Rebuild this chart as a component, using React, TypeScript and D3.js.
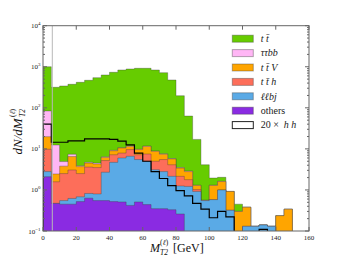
import React, { useRef, useEffect } from "react";
import * as d3 from "d3";

// 5 GeV bins from 0 to 160 GeV, stacked tops
const binWidth = 5;
const xTicks = [0, 20, 40, 60, 80, 100, 120, 140, 160];
const yExponents = [-1, 0, 1, 2, 3, 4];
const cutValue = 5.6;

const ttTop = [1000, 316, 340, 374, 418, 468, 542, 630, 733, 834, 882, 917, 917, 834, 717, 476, 197, 63, 17, 4.1, 1.95, 2.03, 0.92, 0.45, 0.38, 0.13, 0.14, 0.13, 0.236, 0.34, 0, 0];
const tautaubbTop = [84, 12.4, 4.9, 7.4, 3.9, 4.7, 4.5, 6.4, 9.2, 10.7, 11.8, 9.8, 11.7, 8.9, 7.6, 5.8, 3.5, 2.9, 1.3, 0.56, 1.3, 1.62, 0.92, 0.3, 0.38, 0.13, 0.14, 0.13, 0.236, 0.34, 0, 0];
const ttVTop = [19.8, 2.45, 3.8, 6.5, 3.7, 4.5, 4.3, 6.2, 9.0, 10.5, 11.5, 9.6, 11.5, 8.7, 7.4, 5.7, 3.4, 2.8, 1.29, 0.56, 1.29, 1.6, 0.92, 0.3, 0.38, 0.13, 0.14, 0.13, 0.236, 0.34, 0, 0];
const tthTop = [9.8, 1.58, 2.5, 3.06, 2.5, 3.6, 3.5, 5.2, 7.2, 7.9, 9.6, 7.2, 7.5, 5.0, 5.5, 4.1, 2.14, 1.78, 1.02, 0.55, 0.58, 1.0, 0.32, 0, 0.13, 0.13, 0.14, 0.13, 0, 0, 0, 0];
const llbjTop = [2.8, 0.47, 0.55, 0.62, 0.68, 0.82, 0.8, 2.7, 4.7, 6.0, 6.6, 5.5, 5.0, 3.1, 2.8, 2.14, 1.25, 1.22, 0.92, 0.55, 0.58, 1.0, 0.32, 0, 0.13, 0.13, 0.14, 0.13, 0, 0, 0, 0];
const othersTop = [2.1, 0.47, 0.45, 0.45, 0.52, 0.63, 0.55, 0.55, 0.52, 0.51, 0.42, 0.51, 0.44, 0.35, 0.35, 0.33, 0.26, 0, 0, 0, 0, 0, 0, 0, 0, 0, 0, 0, 0, 0, 0, 0];
const hh20 = [40, 14.5, 14.5, 15.7, 15.7, 17.5, 17.5, 17.5, 17, 15.5, 12.5, 7.9, 5.0, 2.8, 1.9, 1.27, 0.96, 0.72, 0.47, 0.34, 0.21, 0.3, 0.22, 0, 0, 0, 0.11, 0, 0, 0, 0, 0];

// legend label parts: [text, italic]
const legendLabels: Array<Array<[string, boolean]>> = [
  [["t t\u0304", true]],
  [["ττbb", true]],
  [["t t\u0304 V", true]],
  [["t t\u0304 h", true]],
  [["ℓℓbj", true]],
  [["others", false]],
  [["20 ×  ", false], ["h h", true]],
];

const layers = [
  { values: ttTop, color: "#66cc00" },
  { values: tautaubbTop, color: "#ffb6f5" },
  { values: ttVTop, color: "#ffa500" },
  { values: tthTop, color: "#fd6e5a" },
  { values: llbjTop, color: "#5aaae6" },
  { values: othersTop, color: "#8a2be2" },
];

const SERIF = "'Liberation Serif', 'DejaVu Serif', serif";

export default function App() {
  const svgRef = useRef<SVGSVGElement>(null);

  useEffect(() => {
    if (!svgRef.current) return;
    const svg = d3.select(svgRef.current);
    svg.selectAll("*").remove();

    const left = 43, right = 309, top = 25.7, bottom = 231;
    const x = d3.scaleLinear().domain([0, 160]).range([left, right]);
    const y = d3.scaleLog().domain([0.1, 1e4]).range([bottom, top]);
    const yc = (v: number) => (v > 0.1 ? y(v) : bottom + 3);

    svg
      .append("defs")
      .append("clipPath")
      .attr("id", "plotclip")
      .append("rect")
      .attr("x", left)
      .attr("y", top)
      .attr("width", right - left)
      .attr("height", bottom - top);

    const plot = svg.append("g").attr("clip-path", "url(#plotclip)");

    const stepPoints = (vals: number[]): [number, number][] => {
      const pts: [number, number][] = [[x(0), bottom + 3]];
      vals.forEach((v, i) => {
        pts.push([x(i * binWidth), yc(v)]);
        pts.push([x((i + 1) * binWidth), yc(v)]);
      });
      pts.push([x(vals.length * binWidth), bottom + 3]);
      return pts;
    };
    const line = d3.line();

    // stacked histograms, largest cumulative first
    layers.forEach((l) => {
      plot
        .append("path")
        .attr("d", line(stepPoints(l.values)) + "Z")
        .attr("fill", l.color)
        .attr("stroke", "rgba(60,60,60,0.35)")
        .attr("stroke-width", 1);
    });

    // 20 x hh outline
    plot
      .append("path")
      .attr("d", line(stepPoints(hh20)))
      .attr("fill", "none")
      .attr("stroke", "#000")
      .attr("stroke-width", 1.2);

    // light cut line
    plot
      .append("line")
      .attr("x1", x(cutValue))
      .attr("x2", x(cutValue))
      .attr("y1", top)
      .attr("y2", bottom)
      .attr("stroke", "#b8b8b8")
      .attr("stroke-width", 1);

    // frame
    const axisColor = "#666";
    svg
      .append("rect")
      .attr("x", left)
      .attr("y", top)
      .attr("width", right - left)
      .attr("height", bottom - top)
      .attr("fill", "none")
      .attr("stroke", axisColor)
      .attr("stroke-width", 1);

    // x ticks (inward, top and bottom)
    xTicks.forEach((t) => {
      const xp = x(t);
      svg.append("line").attr("x1", xp).attr("x2", xp).attr("y1", bottom).attr("y2", bottom - 4).attr("stroke", axisColor);
      svg.append("line").attr("x1", xp).attr("x2", xp).attr("y1", top).attr("y2", top + 4).attr("stroke", axisColor);
      svg
        .append("text")
        .attr("x", xp)
        .attr("y", 240)
        .attr("text-anchor", "middle")
        .attr("font-family", SERIF)
        .attr("font-size", 7)
        .attr("fill", "#222")
        .text(String(t));
    });

    // y ticks, major and minor on both sides
    y.ticks().forEach((t) => {
      const yp = y(t);
      const major = Math.abs(Math.log10(t) - Math.round(Math.log10(t))) < 1e-6;
      const len = major ? 4 : 2;
      svg.append("line").attr("x1", left).attr("x2", left + len).attr("y1", yp).attr("y2", yp).attr("stroke", axisColor);
      svg.append("line").attr("x1", right).attr("x2", right - len).attr("y1", yp).attr("y2", yp).attr("stroke", axisColor);
    });

    yExponents.forEach((e) => {
      const txt = svg
        .append("text")
        .attr("x", 40.5)
        .attr("y", y(Math.pow(10, e)) + 2.5)
        .attr("text-anchor", "end")
        .attr("font-family", SERIF)
        .attr("font-size", 7)
        .attr("fill", "#222");
      txt.append("tspan").text("10");
      txt
        .append("tspan")
        .attr("dy", -3)
        .attr("font-size", 5)
        .text(e < 0 ? "\u2212" + Math.abs(e) : String(e));
    });

    // x label
    const xl = svg.append("g").attr("font-family", SERIF).attr("fill", "#111");
    xl.append("text").attr("x", 150).attr("y", 251.5).attr("font-size", 12).attr("font-style", "italic").text("M");
    xl.append("text").attr("x", 160).attr("y", 245).attr("font-size", 7.5).text("(").append("tspan").attr("font-style", "italic").text("ℓ").select(function () { return this.parentNode as any; }).append("tspan").text(")");
    xl.append("text").attr("x", 160).attr("y", 255).attr("font-size", 7.5).attr("font-style", "italic").text("T2");
    xl.append("text").attr("x", 173).attr("y", 251.5).attr("font-size", 12).text("[GeV]");

    // y label (rotated)
    const yl = svg
      .append("g")
      .attr("transform", "translate(22,131.5) rotate(-90)")
      .attr("font-family", SERIF)
      .attr("fill", "#111");
    yl.append("text").attr("x", -23).attr("y", 0).attr("font-size", 13).attr("font-style", "italic").text("dN/dM");
    const sup = yl.append("text").attr("x", 14.5).attr("y", -7).attr("font-size", 7.5);
    sup.append("tspan").text("(");
    sup.append("tspan").attr("font-style", "italic").text("ℓ");
    sup.append("tspan").text(")");
    yl.append("text").attr("x", 14.5).attr("y", 3).attr("font-size", 7.5).attr("font-style", "italic").text("T2");

    // legend
    const legend = svg.append("g").attr("font-family", SERIF);
    legendLabels.forEach((parts, i) => {
      const ry = 38.7 + i * 14.4;
      const layer = layers[i];
      legend
        .append("rect")
        .attr("x", 232.3)
        .attr("y", ry - 3.5)
        .attr("width", 21)
        .attr("height", 7)
        .attr("fill", layer ? layer.color : "#fff")
        .attr("stroke", layer ? "rgba(60,60,60,0.4)" : "#222")
        .attr("stroke-width", 1);
      const t = legend
        .append("text")
        .attr("x", 260.7)
        .attr("y", ry + 3.3)
        .attr("font-size", 10)
        .attr("fill", "#222")
        .attr("xml:space", "preserve");
      parts.forEach(([s, it]) => {
        t.append("tspan").attr("font-style", it ? "italic" : "normal").text(s);
      });
    });
  }, []);

  return (
    <svg
      ref={svgRef}
      width={343}
      height={258}
      style={{ position: "absolute", left: 0, top: 0, background: "#fff" }}
    />
  );
}
